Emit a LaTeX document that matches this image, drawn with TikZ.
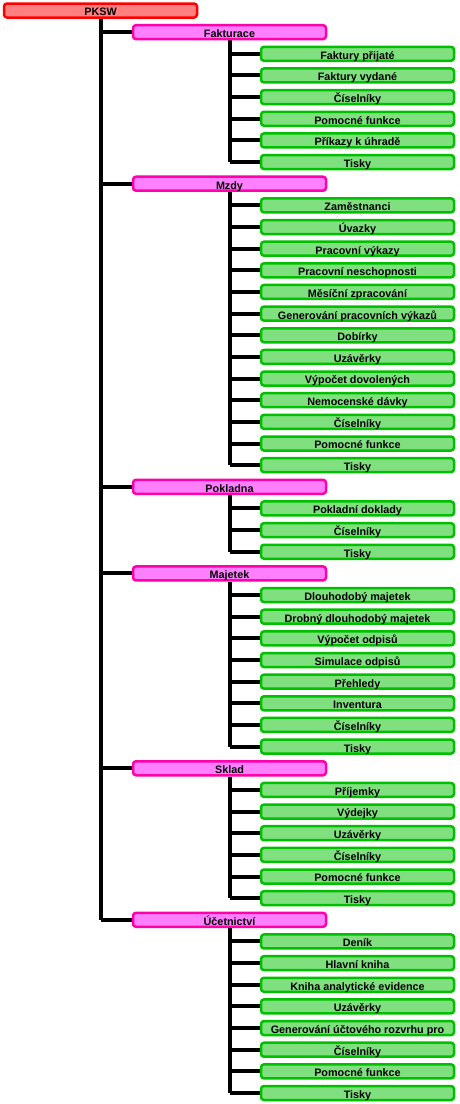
\documentclass[tikz,border=0pt]{standalone}
\usepackage{fontspec}
\setmainfont{Liberation Sans}
\usetikzlibrary{backgrounds}
\definecolor{cRed}{RGB}{255,0,0}
\definecolor{cRedF}{RGB}{255,128,128}
\definecolor{cMag}{RGB}{255,0,170}
\definecolor{cMagF}{RGB}{255,128,255}
\definecolor{cGrn}{RGB}{0,192,0}
\definecolor{cGrnF}{RGB}{128,224,128}
\tikzset{
  box/.style={draw, line width=2.5pt, rounded corners=3pt, minimum height=14pt,
    minimum width=193pt, inner sep=0pt, text height=10.8pt, text depth=0pt,
    font=\bfseries\fontsize{10.8}{10.8}\selectfont},
  root/.style={box, draw=cRed, fill=cRedF},
  lvl/.style={box, draw=cMag, fill=cMagF},
  leaf/.style={box, draw=cGrn, fill=cGrnF},
  link/.style={line width=4pt, black}
}
\begin{document}
\begin{tikzpicture}[x=1pt,y=-1pt]
\useasboundingbox (0,0) rectangle (459,1104);
\node[root] (pksw) at (100.5,10.5) {PKSW};
% level 1
\node[lvl] (fak) at (229.5,32.15) {Fakturace};
\node[lvl] (mzd) at (229.5,183.7) {Mzdy};
\node[lvl] (pok) at (229.5,486.8) {Pokladna};
\node[lvl] (maj) at (229.5,573.4) {Majetek};
\node[lvl] (skl) at (229.5,768.25) {Sklad};
\node[lvl] (uce) at (229.5,919.8) {Účetnictví};
% Fakturace
\node[leaf] (f1) at (357.5,53.8) {Faktury přijaté};
\node[leaf] (f2) at (357.5,75.45) {Faktury vydané};
\node[leaf] (f3) at (357.5,97.1) {Číselníky};
\node[leaf] (f4) at (357.5,118.75) {Pomocné funkce};
\node[leaf] (f5) at (357.5,140.4) {Příkazy k úhradě};
\node[leaf] (f6) at (357.5,162.05) {Tisky};
% Mzdy
\node[leaf] (m1) at (357.5,205.35) {Zaměstnanci};
\node[leaf] (m2) at (357.5,227.0) {Úvazky};
\node[leaf] (m3) at (357.5,248.65) {Pracovní výkazy};
\node[leaf] (m4) at (357.5,270.3) {Pracovní neschopnosti};
\node[leaf] (m5) at (357.5,291.95) {Měsíční zpracování};
\node[leaf] (m6) at (357.5,313.6) {Generování pracovních výkazů};
\node[leaf] (m7) at (357.5,335.25) {Dobírky};
\node[leaf] (m8) at (357.5,356.9) {Uzávěrky};
\node[leaf] (m9) at (357.5,378.55) {Výpočet dovolených};
\node[leaf] (m10) at (357.5,400.2) {Nemocenské dávky};
\node[leaf] (m11) at (357.5,421.85) {Číselníky};
\node[leaf] (m12) at (357.5,443.5) {Pomocné funkce};
\node[leaf] (m13) at (357.5,465.15) {Tisky};
% Pokladna
\node[leaf] (p1) at (357.5,508.45) {Pokladní doklady};
\node[leaf] (p2) at (357.5,530.1) {Číselníky};
\node[leaf] (p3) at (357.5,551.75) {Tisky};
% Majetek
\node[leaf] (j1) at (357.5,595.05) {Dlouhodobý majetek};
\node[leaf] (j2) at (357.5,616.7) {Drobný dlouhodobý majetek};
\node[leaf] (j3) at (357.5,638.35) {Výpočet odpisů};
\node[leaf] (j4) at (357.5,660.0) {Simulace odpisů};
\node[leaf] (j5) at (357.5,681.65) {Přehledy};
\node[leaf] (j6) at (357.5,703.3) {Inventura};
\node[leaf] (j7) at (357.5,724.95) {Číselníky};
\node[leaf] (j8) at (357.5,746.6) {Tisky};
% Sklad
\node[leaf] (s1) at (357.5,789.9) {Příjemky};
\node[leaf] (s2) at (357.5,811.55) {Výdejky};
\node[leaf] (s3) at (357.5,833.2) {Uzávěrky};
\node[leaf] (s4) at (357.5,854.85) {Číselníky};
\node[leaf] (s5) at (357.5,876.5) {Pomocné funkce};
\node[leaf] (s6) at (357.5,898.15) {Tisky};
% Ucetnictvi
\node[leaf] (u1) at (357.5,941.45) {Deník};
\node[leaf] (u2) at (357.5,963.1) {Hlavní kniha};
\node[leaf] (u3) at (357.5,984.75) {Kniha analytické evidence};
\node[leaf] (u4) at (357.5,1006.4) {Uzávěrky};
\node[leaf] (u5) at (357.5,1028.05) {Generování účtového rozvrhu pro};
\node[leaf] (u6) at (357.5,1049.7) {Číselníky};
\node[leaf] (u7) at (357.5,1071.35) {Pomocné funkce};
\node[leaf] (u8) at (357.5,1093.0) {Tisky};
\begin{scope}[on background layer]
  \draw[link] (pksw.south) -- (pksw.south |- uce.west);
  \foreach \n in {fak,mzd,pok,maj,skl,uce}
    \draw[link] (pksw.south |- \n.west) -- (\n.west);
  \draw[link] (fak.south) -- (fak.south |- f6.west);
  \foreach \n in {f1,f2,f3,f4,f5,f6}
    \draw[link] (fak.south |- \n.west) -- (\n.west);
  \draw[link] (mzd.south) -- (mzd.south |- m13.west);
  \foreach \n in {m1,m2,m3,m4,m5,m6,m7,m8,m9,m10,m11,m12,m13}
    \draw[link] (mzd.south |- \n.west) -- (\n.west);
  \draw[link] (pok.south) -- (pok.south |- p3.west);
  \foreach \n in {p1,p2,p3}
    \draw[link] (pok.south |- \n.west) -- (\n.west);
  \draw[link] (maj.south) -- (maj.south |- j8.west);
  \foreach \n in {j1,j2,j3,j4,j5,j6,j7,j8}
    \draw[link] (maj.south |- \n.west) -- (\n.west);
  \draw[link] (skl.south) -- (skl.south |- s6.west);
  \foreach \n in {s1,s2,s3,s4,s5,s6}
    \draw[link] (skl.south |- \n.west) -- (\n.west);
  \draw[link] (uce.south) -- (uce.south |- u8.west);
  \foreach \n in {u1,u2,u3,u4,u5,u6,u7,u8}
    \draw[link] (uce.south |- \n.west) -- (\n.west);
\end{scope}
\end{tikzpicture}
\end{document}
